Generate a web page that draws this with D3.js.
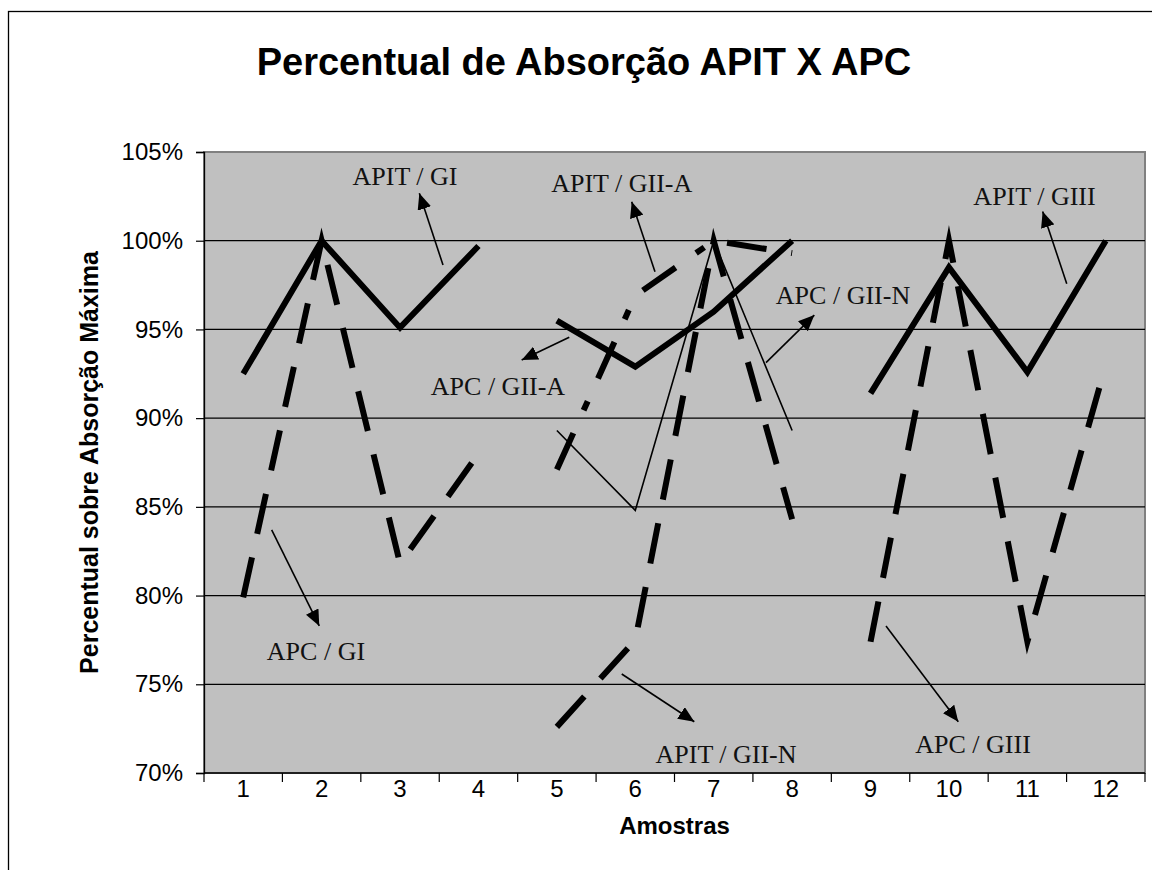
<!DOCTYPE html>
<html>
<head>
<meta charset="utf-8">
<script src="https://cdn.jsdelivr.net/npm/d3@7"></script>
<style>
  html, body { margin: 0; padding: 0; background: #ffffff; }
  svg { display: block; }
</style>
</head>
<body>
<svg id="chart" width="1152" height="870"></svg>
<script>
// Sample numbers shown on the category axis
const categories = ["1", "2", "3", "4", "5", "6", "7", "8", "9", "10", "11", "12"];
const yTicks = [70, 75, 80, 85, 90, 95, 100, 105];

// Groups of samples
const groupI = ["1", "2", "3", "4"];
const groupII = ["5", "6", "7", "8"];
const groupIII = ["9", "10", "11", "12"];

// Absorption (% of maximum) per group
const apitGI = [92.5, 100, 95.1, 99.7];
const apcGI = [79.9, 100, 81.8, 88.0];
const apcGIIA = [95.5, 92.9, 96.0, 100];
const apitGIIA = [87.1, 96.9, 100, 99.3];
const apitGIIN = [72.6, 77.5, 100, 84.3];
const apcGIIN = [89.3, 84.8, 100, 89.3];
const apitGIII = [91.4, 98.5, 92.6, 100];
const apcGIII = [77.4, 100, 77.4, 93.0];

// Callout labels: text, label anchor, arrow tail and arrow tip (band units, percent)
const calloutText = ["APIT / GI", "APC / GI", "APIT / GII-A", "APC / GII-A",
                     "APC / GII-N", "APIT / GII-N", "APIT / GIII", "APC / GIII"];
const calloutLabel = [[2.563, 103.14], [1.428, 76.37], [5.327, 102.76], [3.749, 91.30],
                      [8.149, 96.43], [6.657, 70.56], [10.591, 102.02], [9.807, 71.13]];
const calloutTail = [[3.048, 98.63], [0.863, 83.70], [5.751, 98.25], [4.658, 94.56],
                     [7.167, 93.13], [5.327, 75.58], [11.002, 97.58], [8.697, 78.29]];
const calloutTip = [[2.746, 102.67], [1.470, 78.29], [5.454, 102.20], [4.051, 93.28],
                    [7.783, 95.81], [6.253, 72.89], [10.695, 101.65], [9.619, 72.89]];

const svg = d3.select("#chart");
const W = 1152, H = 870;
const plot = { left: 204, top: 152, right: 1145, bottom: 773 };

const sans = "'Liberation Sans', Arial, sans-serif";
const serif = "'Liberation Serif', 'Times New Roman', serif";

// Outer chart frame
svg.append("rect")
  .attr("x", 8.5).attr("y", 11.5)
  .attr("width", W + 20).attr("height", H + 20)
  .attr("fill", "#ffffff").attr("stroke", "#000000").attr("stroke-width", 1.3);

const x = d3.scaleBand().domain(categories).range([plot.left, plot.right]).padding(0);
const xu = d3.scaleLinear().domain([0, categories.length]).range([plot.left, plot.right]);
const y = d3.scaleLinear().domain([70, 105]).range([plot.bottom, plot.top]);

// Plot area
svg.append("rect")
  .attr("x", plot.left).attr("y", plot.top)
  .attr("width", plot.right - plot.left).attr("height", plot.bottom - plot.top)
  .attr("fill", "#c0c0c0").attr("stroke", "#808080").attr("stroke-width", 2);

// Horizontal gridlines
svg.append("g")
  .selectAll("line")
  .data(yTicks.filter(t => t > 70 && t < 105))
  .join("line")
  .attr("x1", plot.left).attr("x2", plot.right)
  .attr("y1", d => y(d)).attr("y2", d => y(d))
  .attr("stroke", "#000000").attr("stroke-width", 1.2);

// Y axis
const yAxis = svg.append("g")
  .attr("transform", `translate(${plot.left},0)`)
  .call(d3.axisLeft(y).tickValues(yTicks).tickSize(8).tickPadding(13)
    .tickFormat(d => d + "%"));
yAxis.select(".domain").attr("stroke", "#000").attr("stroke-width", 1.3);
yAxis.selectAll(".tick line").attr("stroke", "#000").attr("stroke-width", 1.2);
yAxis.selectAll(".tick text")
  .attr("font-family", sans).attr("font-size", 24).attr("fill", "#000");

// X axis: ticks on the category boundaries
const xAxisG = svg.append("g");
xAxisG.append("line")
  .attr("x1", plot.left).attr("x2", plot.right)
  .attr("y1", plot.bottom).attr("y2", plot.bottom)
  .attr("stroke", "#000").attr("stroke-width", 1.3);
xAxisG.selectAll("line.tk")
  .data(d3.range(categories.length + 1))
  .join("line").attr("class", "tk")
  .attr("x1", d => xu(d)).attr("x2", d => xu(d))
  .attr("y1", plot.bottom).attr("y2", plot.bottom + 9)
  .attr("stroke", "#000").attr("stroke-width", 1.2);
xAxisG.selectAll("text")
  .data(categories)
  .join("text")
  .attr("x", d => x(d) + x.bandwidth() / 2)
  .attr("y", plot.bottom + 24)
  .attr("text-anchor", "middle")
  .attr("font-family", sans).attr("font-size", 24).attr("fill", "#000")
  .text(d => d);

// Titles
svg.append("text")
  .attr("x", 584).attr("y", 75)
  .attr("text-anchor", "middle")
  .attr("font-family", sans).attr("font-weight", "bold").attr("font-size", 38)
  .text("Percentual de Absorção APIT X APC");

svg.append("text")
  .attr("x", (plot.left + plot.right) / 2).attr("y", plot.bottom + 61)
  .attr("text-anchor", "middle")
  .attr("font-family", sans).attr("font-weight", "bold").attr("font-size", 24)
  .text("Amostras");

svg.append("text")
  .attr("transform", `translate(98,${(plot.top + plot.bottom) / 2}) rotate(-90)`)
  .attr("text-anchor", "middle")
  .attr("font-family", sans).attr("font-weight", "bold").attr("font-size", 25)
  .text("Percentual sobre Absorção Máxima");

// Series lines
const line = d3.line()
  .x(d => x(d.cat) + x.bandwidth() / 2)
  .y(d => y(d.v));

const series = [
  { cats: groupI, vals: apitGI, w: 6, dash: null },
  { cats: groupI, vals: apcGI, w: 6, dash: "41 24" },
  { cats: groupII, vals: apcGIIN, w: 1.6, dash: null },
  { cats: groupII, vals: apitGIIN, w: 6, dash: "41 24" },
  { cats: groupII, vals: apitGIIA, w: 6, dash: "40 25 10 25" },
  { cats: groupII, vals: apcGIIA, w: 6, dash: null },
  { cats: groupIII, vals: apcGIII, w: 6, dash: "41 24" },
  { cats: groupIII, vals: apitGIII, w: 6, dash: null }
];

svg.append("g")
  .selectAll("path")
  .data(series)
  .join("path")
  .attr("d", s => line(s.cats.map((c, i) => ({ cat: c, v: s.vals[i] }))))
  .attr("fill", "none")
  .attr("stroke", "#000")
  .attr("stroke-width", s => s.w)
  .attr("stroke-dasharray", s => s.dash)
  .attr("stroke-linejoin", "miter")
  .attr("stroke-miterlimit", 10);

// Callout arrows and labels
svg.append("defs").append("marker")
  .attr("id", "arrowhead")
  .attr("viewBox", "0 0 16 14")
  .attr("refX", 16).attr("refY", 7)
  .attr("markerWidth", 16).attr("markerHeight", 14)
  .attr("markerUnits", "userSpaceOnUse")
  .attr("orient", "auto")
  .append("path")
  .attr("d", "M0,0 L16,7 L0,14 Z")
  .attr("fill", "#000");

const callouts = calloutText.map((t, i) => ({
  text: t, label: calloutLabel[i], tail: calloutTail[i], tip: calloutTip[i]
}));

const cg = svg.append("g");
cg.selectAll("line")
  .data(callouts)
  .join("line")
  .attr("x1", d => xu(d.tail[0])).attr("y1", d => y(d.tail[1]))
  .attr("x2", d => xu(d.tip[0])).attr("y2", d => y(d.tip[1]))
  .attr("stroke", "#000").attr("stroke-width", 1.6)
  .attr("marker-end", "url(#arrowhead)");

cg.selectAll("text")
  .data(callouts)
  .join("text")
  .attr("x", d => xu(d.label[0])).attr("y", d => y(d.label[1]))
  .attr("text-anchor", "middle")
  .attr("font-family", serif).attr("font-size", 26).attr("fill", "#111")
  .text(d => d.text);
</script>
</body>
</html>
